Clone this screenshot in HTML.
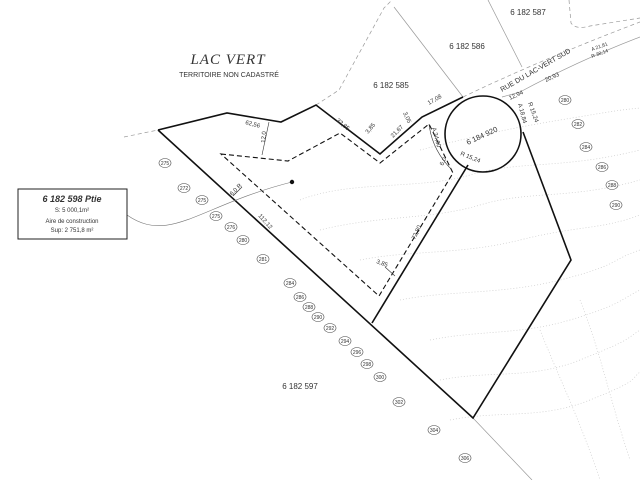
<!DOCTYPE html>
<html><head><meta charset="utf-8"><style>
html,body{margin:0;padding:0;background:#fff}
svg{display:block}
text{font-family:"Liberation Sans",sans-serif;fill:#333}
.s{font-size:6px}
.c{font-size:5px}
</style></head><body>
<svg width="640" height="480" viewBox="0 0 640 480" xmlns="http://www.w3.org/2000/svg">
<rect width="640" height="480" fill="#fff"/>
<!-- faint contours -->
<g fill="none" stroke="#ccc" stroke-width="0.7" stroke-dasharray="1,2">
<path d="M300,200 C350,180 420,190 470,175 S560,170 640,150"/>
<path d="M320,230 C380,215 430,220 480,205 S570,200 640,180"/>
<path d="M360,260 C410,250 460,255 520,240 S600,230 640,215"/>
<path d="M400,300 C450,290 500,295 560,280 S610,260 640,250"/>
<path d="M430,340 C480,330 520,335 570,320 S620,300 640,290"/>
<path d="M440,380 C490,370 530,380 580,360 S625,340 640,330"/>
<path d="M450,420 C500,410 540,420 590,400 S630,380 640,372"/>
<path d="M420,150 C460,140 500,130 560,120 S620,110 640,108"/>
<path d="M540,330 C560,380 580,420 600,480"/>
<path d="M580,300 C600,350 610,400 630,460"/>
</g>
<!-- thin parcel lines -->
<g fill="none" stroke="#999" stroke-width="0.7">
<path d="M124,137 L158,130" stroke-dasharray="4,3"/>
<path d="M316,105 L339,90 L384,8 L392,0" stroke-dasharray="4,3"/>
<path d="M394,7 L463,97"/>
<path d="M488,0 L522,67"/>
<path d="M569,0 L571,23 Q576,30 590,26 L640,18" stroke-dasharray="4,3"/>
<path d="M463,97 Q540,60 640,22" stroke-dasharray="4,3"/>
<path d="M502,97 L520,92 Q580,60 640,37"/>
<path d="M473,418 L532,480"/>
</g>
<!-- lot boundary -->
<g fill="none" stroke="#111" stroke-width="1.6">
<path d="M158,130 L227,113 L281,122 L316,105 L380,154 L422,117 L463,97"/>
<path d="M158,130 L473,418 L571,260 L523,132"/>
<path d="M468,165 L372,323"/>
<circle cx="483" cy="134" r="38"/>
</g>
<!-- building area dashed -->
<path d="M221,154 L288,161 L340,133 L380,163 L429,124 L453,173 L379,296 Z" fill="none" stroke="#111" stroke-width="1.1" stroke-dasharray="5,3"/>
<!-- dims -->
<g stroke="#333" stroke-width="0.6" fill="none">
<line x1="269" y1="122" x2="262" y2="155"/>
<line x1="233" y1="196" x2="242" y2="187"/>
<line x1="385" y1="267" x2="395" y2="276"/>
<path d="M429,124 Q432,150 452,170"/>
</g>
<g class="s">
<text transform="translate(245,124) rotate(15)">62,56</text>
<text transform="translate(265,143) rotate(-85)">12,0</text>
<text transform="translate(336,121) rotate(40)">32,85</text>
<text transform="translate(368,134) rotate(-50)">3,85</text>
<text transform="translate(393,138) rotate(-45)">21,67</text>
<text transform="translate(403,113) rotate(65)">3,05</text>
<text transform="translate(429,105) rotate(-30)">17,08</text>
<text transform="translate(432,128) rotate(75)">A 34,00</text>
<text transform="translate(443,166) rotate(-65)">6,0</text>
<text transform="translate(460,155) rotate(22)">R 15,24</text>
<text transform="translate(510,100) rotate(-25)">12,94</text>
<text transform="translate(528,103) rotate(70)">R 15,24</text>
<text transform="translate(518,104) rotate(75)">A 18,84</text>
<text transform="translate(592,51) rotate(-20)" style="font-size:5px">A 21,81</text>
<text transform="translate(592,58) rotate(-20)" style="font-size:5px">R 38,14</text>
<text transform="translate(546,82) rotate(-25)">20,93</text>
<text transform="translate(232,196) rotate(-45)">6,0 R</text>
<text transform="translate(258,216) rotate(48)">112,12</text>
<text transform="translate(415,240) rotate(-65)">72,80</text>
<text transform="translate(376,263) rotate(20)">3,85</text>
</g>
<!-- labels -->
<text x="228" y="64" text-anchor="middle" style="font-family:'Liberation Serif',serif;font-style:italic;font-size:15px;letter-spacing:1px">LAC VERT</text>
<text x="229" y="77" text-anchor="middle" style="font-size:7px">TERRITOIRE NON CADASTRÉ</text>
<text x="528" y="15" text-anchor="middle" style="font-size:8px">6 182 587</text>
<text x="467" y="49" text-anchor="middle" style="font-size:8px">6 182 586</text>
<text x="391" y="88" text-anchor="middle" style="font-size:8px">6 182 585</text>
<text transform="translate(483,138) rotate(-25)" text-anchor="middle" style="font-size:7.5px">6 184 920</text>
<text x="300" y="389" text-anchor="middle" style="font-size:8px">6 182 597</text>
<text transform="translate(502,92) rotate(-30)" style="font-size:7px">RUE DU LAC-VERT SUD</text>
<!-- box -->
<path d="M127,215 C170,245 200,205 292,182" fill="none" stroke="#777" stroke-width="0.6"/>
<circle cx="292" cy="182" r="2.2" fill="#111"/>
<rect x="18" y="189" width="109" height="50" fill="#fff" stroke="#222" stroke-width="1"/>
<text x="72" y="202" text-anchor="middle" style="font-style:italic;font-size:9px;font-weight:bold">6 182 598 Ptie</text>
<text x="72" y="212" text-anchor="middle" style="font-size:6px">S: 5 000,1m²</text>
<text x="72" y="223" text-anchor="middle" style="font-size:6px">Aire de construction</text>
<text x="72" y="232" text-anchor="middle" style="font-size:6px">Sup: 2 751,8 m²</text>
<!-- elevation labels -->
<g fill="none" stroke="#444" stroke-width="0.6">
<ellipse cx="165" cy="163" rx="6" ry="4.5"/><ellipse cx="184" cy="188" rx="6" ry="4.5"/>
<ellipse cx="202" cy="200" rx="6" ry="4.5"/><ellipse cx="216" cy="216" rx="6" ry="4.5"/>
<ellipse cx="231" cy="227" rx="6" ry="4.5"/><ellipse cx="243" cy="240" rx="6" ry="4.5"/>
<ellipse cx="263" cy="259" rx="6" ry="4.5"/><ellipse cx="290" cy="283" rx="6" ry="4.5"/>
<ellipse cx="300" cy="297" rx="6" ry="4.5"/><ellipse cx="309" cy="307" rx="6" ry="4.5"/>
<ellipse cx="318" cy="317" rx="6" ry="4.5"/><ellipse cx="330" cy="328" rx="6" ry="4.5"/>
<ellipse cx="345" cy="341" rx="6" ry="4.5"/><ellipse cx="357" cy="352" rx="6" ry="4.5"/>
<ellipse cx="367" cy="364" rx="6" ry="4.5"/><ellipse cx="380" cy="377" rx="6" ry="4.5"/>
<ellipse cx="399" cy="402" rx="6" ry="4.5"/><ellipse cx="434" cy="430" rx="6" ry="4.5"/>
<ellipse cx="465" cy="458" rx="6" ry="4.5"/>
<ellipse cx="565" cy="100" rx="6" ry="4.5"/><ellipse cx="578" cy="124" rx="6" ry="4.5"/>
<ellipse cx="586" cy="147" rx="6" ry="4.5"/><ellipse cx="602" cy="167" rx="6" ry="4.5"/>
<ellipse cx="612" cy="185" rx="6" ry="4.5"/><ellipse cx="616" cy="205" rx="6" ry="4.5"/>
</g>
<g class="c" text-anchor="middle">
<text x="165" y="165">275</text><text x="184" y="190">272</text><text x="202" y="202">275</text>
<text x="216" y="218">275</text><text x="231" y="229">276</text><text x="243" y="242">280</text>
<text x="263" y="261">281</text><text x="290" y="285">284</text><text x="300" y="299">286</text>
<text x="309" y="309">288</text><text x="318" y="319">290</text><text x="330" y="330">292</text>
<text x="345" y="343">294</text><text x="357" y="354">296</text><text x="367" y="366">298</text>
<text x="380" y="379">300</text><text x="399" y="404">302</text><text x="434" y="432">304</text>
<text x="465" y="460">306</text>
<text x="565" y="102">280</text><text x="578" y="126">282</text><text x="586" y="149">284</text>
<text x="602" y="169">286</text><text x="612" y="187">288</text><text x="616" y="207">290</text>
</g>
</svg>
</body></html>
